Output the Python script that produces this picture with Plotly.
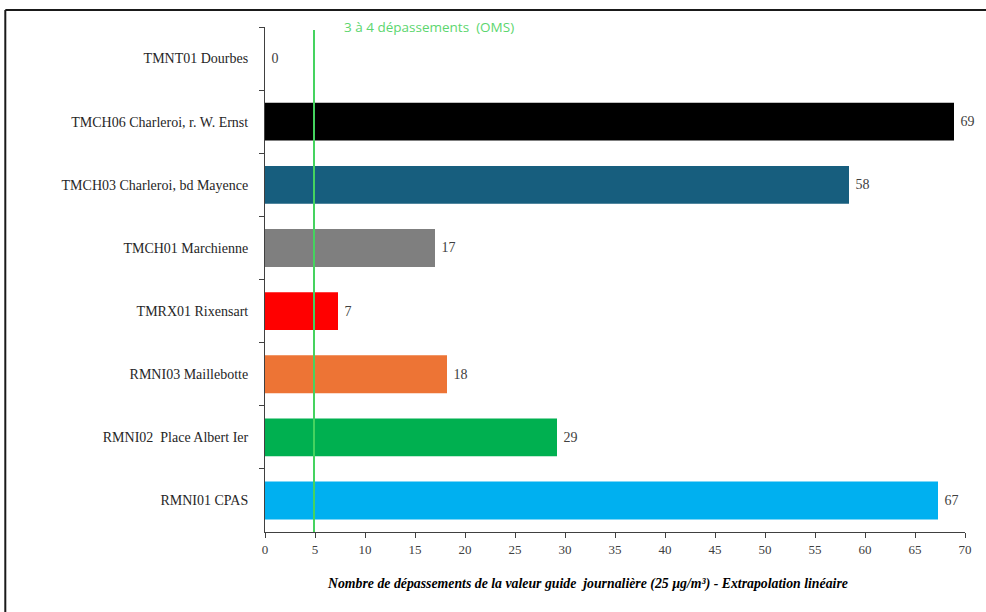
import plotly.graph_objects as go

stations = [
    "TMNT01 Dourbes",
    "TMCH06 Charleroi, r. W. Ernst",
    "TMCH03 Charleroi, bd Mayence",
    "TMCH01 Marchienne",
    "TMRX01 Rixensart",
    "RMNI03 Maillebotte",
    "RMNI02  Place Albert Ier",
    "RMNI01 CPAS",
]
exceedances = [0, 68.9, 58.4, 17.0, 7.3, 18.2, 29.2, 67.3]
labels = ["0", "69", "58", "17", "7", "18", "29", "67"]
bar_colors = ["#000000", "#000000", "#175e7e", "#7f7f7f", "#ff0000", "#ed7435", "#00b050", "#00b0f0"]
oms_value = 4.9
oms_label = "3 à 4 dépassements  (OMS)"
x_title = "Nombre de dépassements de la valeur guide  journalière (25 µg/m³) - Extrapolation linéaire"
x_ticks = list(range(0, 71, 5))

serif = "Liberation Serif, Times New Roman, serif"
pad = "\u00a0"

fig = go.Figure()
fig.add_trace(go.Bar(
    y=stations,
    x=exceedances,
    orientation="h",
    marker=dict(color=bar_colors, line=dict(width=0)),
    width=0.6,
    text=[pad + t for t in labels],
    textposition="outside",
    textfont=dict(family=serif, size=14, color="#404040"),
    cliponaxis=False,
    hoverinfo="x+y",
))

fig.add_shape(type="line", xref="x", yref="paper",
              x0=oms_value, x1=oms_value, y0=0, y1=0.994,
              line=dict(color="#45d35f", width=2))
fig.add_annotation(text=oms_label, xref="x", yref="paper",
                   x=7.7, y=1.0, xanchor="left", yanchor="middle",
                   showarrow=False,
                   font=dict(family="Open Sans, sans-serif", size=13.5, color="#5cd66e"))
fig.add_annotation(text="<b><i>" + x_title + "</i></b>", xref="paper", yref="paper",
                   x=0.461, y=-0.103, xanchor="center", yanchor="middle",
                   showarrow=False,
                   font=dict(family=serif, size=13.8, color="#000000"))

# outer frame (top and left edges)
fig.add_shape(type="line", xref="paper", yref="paper",
              x0=-0.371, x1=1.05, y0=1.0337, y1=1.0337,
              line=dict(color="#1a1a1a", width=2))
fig.add_shape(type="line", xref="paper", yref="paper",
              x0=-0.371, x1=-0.371, y0=1.0337, y1=-0.2,
              line=dict(color="#1a1a1a", width=2))

fig.update_layout(
    width=986, height=612,
    margin=dict(l=265, r=21, t=27, b=80),
    paper_bgcolor="white", plot_bgcolor="white",
    showlegend=False,
    bargap=0.4,
    xaxis=dict(
        range=[0, 70], tickvals=x_ticks, ticktext=[str(v) for v in x_ticks],
        showgrid=False, zeroline=False,
        showline=True, linecolor="#404040", linewidth=1,
        ticks="outside", ticklen=5, tickcolor="#404040",
        tickfont=dict(family=serif, size=13, color="#404040"),
    ),
    yaxis=dict(
        autorange="reversed",
        showgrid=False, zeroline=False,
        showline=True, linecolor="#404040", linewidth=1,
        ticks="outside", ticklen=5, tickcolor="#404040",
        tickson="boundaries",
        ticklabelstandoff=13,
        tickfont=dict(family=serif, size=14, color="#262626"),
    ),
)

fig.write_html("out.html", config={"displayModeBar": False},
               post_script="document.body.style.margin='0';")
